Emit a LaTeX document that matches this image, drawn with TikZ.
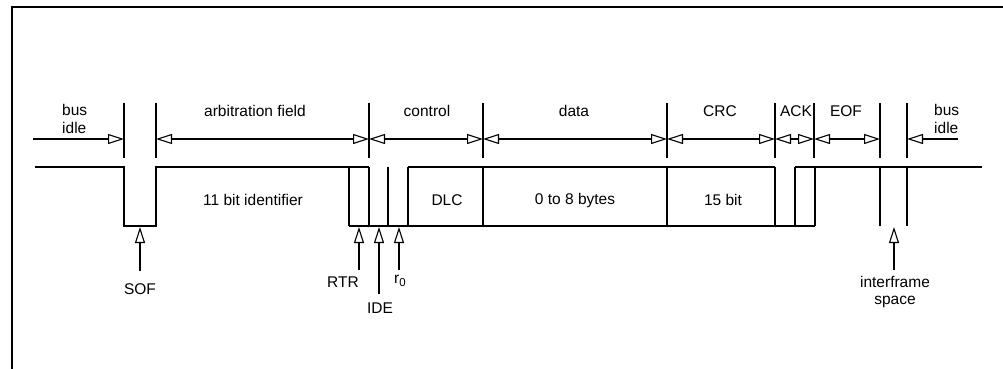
\documentclass[tikz,border=0pt]{standalone}
\usepackage{fontspec}
\setmainfont{Liberation Sans}
\usetikzlibrary{arrows.meta}
\tikzset{
  lbl/.style={inner sep=0pt, font=\fontsize{15.5}{17.5}\selectfont},
  sig/.style={line width=1.5pt},
  tick/.style={line width=1.1pt},
  opentip/.tip={Triangle[open, length=16pt, width=10pt, line width=1.1pt]},
  span/.style={line width=1.1pt, {opentip}-{opentip}},
  rspan/.style={line width=1.1pt, -{opentip}},
  uparr/.style={line width=1.1pt, -{opentip}},
}
\begin{document}
\begin{tikzpicture}[x=1pt,y=-1pt]
\useasboundingbox (0,0) rectangle (1003,369);
% frame
\draw[line width=2pt] (12,369) -- (12,7) -- (1003,7);
% field boundary ticks
\foreach \n/\x in {t1/124,t2/156,t3/369,t4/483,t5/667,t6/775,t7/814,t8/880,t9/907}{
  \coordinate (\n) at (\x,139);
  \draw[tick] (\x,103) -- (\x,158);
}
\coordinate (il) at (33,139);
\coordinate (ir) at (958,139);
% span arrows
\draw[rspan] (il) -- (t1);
\draw[span] (t2) -- (t3);
\draw[span] (t3) -- (t4);
\draw[span] (t4) -- (t5);
\draw[span] (t5) -- (t6);
\draw[span] (t6) -- (t7);
\draw[span] (t7) -- (t8);
\draw[rspan] (ir) -- (t9);
% field labels
\node[lbl, anchor=west, align=left] (bi1) at (62,119) {bus\\idle};
\node[lbl] (arb) at (255,111) {arbitration field};
\node[lbl] (ctl) at (427,111) {control};
\node[lbl] (dat) at (574,111) {data};
\node[lbl] (crc) at (720,111) {CRC};
\node[lbl] (ack) at (796,111) {ACK};
\node[lbl] (eof) at (846,111) {EOF};
\node[lbl, anchor=west, align=left] (bi2) at (934,119) {bus\\idle};
% signal
\draw[sig] (35,167) -- (124,167) -- (124,226) -- (156,226) -- (156,167) -- (369,167);
\draw[sig] (349,226) -- (815,226);
\draw[sig] (408,167) -- (775,167);
\draw[sig] (795,167) -- (982,167);
\foreach \x in {349,369,388,408,483,667,775,795,815}{
  \draw[sig] (\x,167) -- (\x,226);
}
\foreach \x in {880,907}{
  \draw[tick] (\x,167) -- (\x,226);
}
% box labels
\node[lbl] (id) at (253,200) {11 bit identifier};
\node[lbl] (dlc) at (447,200) {DLC};
\node[lbl] (byt) at (575,200) {0 to 8 bytes};
\node[lbl] (bit) at (723,200) {15 bit};
% bottom arrows
\coordinate (sofT) at (140,227);
\coordinate (rtrT) at (359,227);
\coordinate (ideT) at (379,227);
\coordinate (r0T) at (399,227);
\coordinate (ifsT) at (894,227);
\node[lbl] (sof) at (140,289) {SOF};
\node[lbl] (rtr) at (343,282) {RTR};
\node[lbl] (ide) at (380,308) {IDE};
\node[lbl, anchor=west] (r0) at (394,281) {r\raisebox{-0.45ex}{\fontsize{11.5}{12}\selectfont 0}};
\node[lbl, align=center] (ifs) at (895,292) {interframe\\space};
\draw[uparr] (140,271) -- (sofT);
\draw[uparr] (359,270) -- (rtrT);
\draw[uparr] (379,294) -- (ideT);
\draw[uparr] (399,270) -- (r0T);
\draw[uparr] (894,270) -- (ifsT);
\end{tikzpicture}
\end{document}
